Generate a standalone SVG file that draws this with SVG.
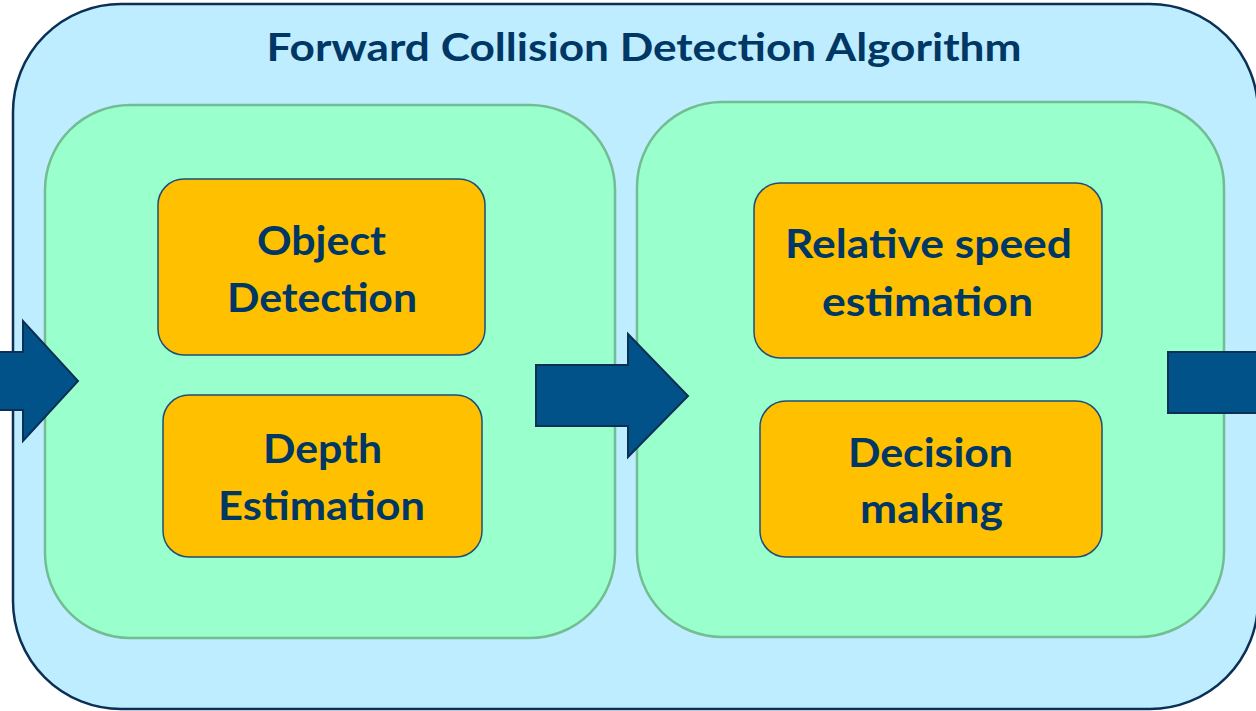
<svg xmlns="http://www.w3.org/2000/svg" width="1256" height="711" viewBox="0 0 1256 711">
  <style>
    .outer { fill: #BDEDFF; stroke: #0B2F55; stroke-width: 2.5; }
    .stage { fill: #99FFCC; stroke: #72BD92; stroke-width: 2.5; }
    .task { fill: #FFC000; stroke: #1F4E79; stroke-width: 1.5; }
    .flow { fill: #02528A; stroke: #0B2F55; stroke-width: 2; stroke-linejoin: miter; }
    text { font-family: Lato, "Open Sans", "Liberation Sans", sans-serif; font-weight: bold; fill: #003764; text-anchor: middle; }
    .title { font-size: 39px; }
    .label { font-size: 41px; }
  </style>

  <!-- enclosing algorithm block -->
  <g id="algorithm">
    <rect class="outer" x="13" y="4" width="1245" height="705" rx="108" ry="108"/>
    <text class="title" x="644" y="61" textLength="755" lengthAdjust="spacingAndGlyphs">Forward Collision Detection Algorithm</text>
  </g>

  <!-- perception stage -->
  <g id="stage-perception">
    <rect class="stage" x="45" y="105" width="570" height="533" rx="85" ry="85"/>
  </g>

  <!-- planning stage -->
  <g id="stage-planning">
    <rect class="stage" x="637" y="102" width="587" height="535" rx="85" ry="85"/>
  </g>

  <g id="object-detection">
    <rect class="task" x="158" y="179" width="327" height="176" rx="26" ry="26"/>
    <text class="label" x="321.5" y="255" textLength="129" lengthAdjust="spacingAndGlyphs">Object</text>
    <text class="label" x="322" y="312" textLength="190" lengthAdjust="spacingAndGlyphs">Detection</text>
  </g>

  <g id="depth-estimation">
    <rect class="task" x="163" y="395" width="319" height="162" rx="26" ry="26"/>
    <text class="label" x="322.5" y="463" textLength="119" lengthAdjust="spacingAndGlyphs">Depth</text>
    <text class="label" x="321.5" y="520" textLength="207" lengthAdjust="spacingAndGlyphs">Estimation</text>
  </g>

  <g id="relative-speed">
    <rect class="task" x="754" y="183" width="348" height="175" rx="26" ry="26"/>
    <text class="label" x="928.5" y="258" textLength="287" lengthAdjust="spacingAndGlyphs">Relative speed</text>
    <text class="label" x="927.5" y="316" textLength="211" lengthAdjust="spacingAndGlyphs">estimation</text>
  </g>

  <g id="decision-making">
    <rect class="task" x="760" y="401" width="342" height="156" rx="26" ry="26"/>
    <text class="label" x="930.5" y="467" textLength="165" lengthAdjust="spacingAndGlyphs">Decision</text>
    <text class="label" x="931.5" y="523" textLength="143" lengthAdjust="spacingAndGlyphs">making</text>
  </g>

  <!-- block arrows between stages -->
  <g id="connectors">
    <polygon class="flow" points="-5,352 23,352 23,321 78,381 23,441 23,410 -5,410"/>
    <polygon class="flow" points="536,365 628,365 628,334 688,396 628,457 628,426 536,426"/>
    <polygon class="flow" points="1168,352 1262,352 1262,413 1168,413"/>
  </g>
</svg>
